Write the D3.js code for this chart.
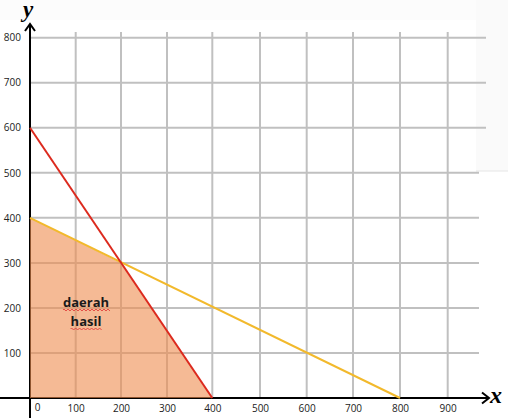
<!DOCTYPE html>
<html>
<head>
<meta charset="utf-8">
<script src="https://cdn.jsdelivr.net/npm/d3@7"></script>
<style>
  html, body { margin: 0; padding: 0; background: #ffffff; }
  svg { display: block; }
</style>
</head>
<body>
<svg id="chart" width="508" height="418"></svg>
<script>
// ---- data ----
const xTicks = [0, 100, 200, 300, 400, 500, 600, 700, 800, 900];
const yTicks = [100, 200, 300, 400, 500, 600, 700, 800];
const redLine = [[0, 600], [400, 0]];
const yellowLine = [[0, 400], [800, 0]];
const region = [[0, 0], [0, 400], [200, 300], [400, 0]];
const regionLabel = ["daerah", "hasil"];
const axisNames = ["x", "y"];

// ---- drawing ----
const svg = d3.select("#chart");

// hand-drawn-like (slightly uneven) grid spacing on x
const x = d3.scaleLinear()
  .domain(xTicks)
  .range([30, 75.7, 121, 167, 212.3, 260, 306.7, 353, 400, 447.7]);
const y = d3.scaleLinear().domain([0, 800]).range([398, 37.7]);

// subtle background tint regions
svg.append("rect").attr("x", 0).attr("y", 0).attr("width", 508).attr("height", 20).attr("fill", "#fcfcfc");
svg.append("rect").attr("x", 476).attr("y", 0).attr("width", 32).attr("height", 171).attr("fill", "#fafafa");
svg.append("line").attr("x1", 476).attr("x2", 508).attr("y1", 171).attr("y2", 171)
  .attr("stroke", "#e6e6e6").attr("stroke-width", 1);

const grid = svg.append("g").attr("stroke", "#c0c0c0").attr("stroke-width", 2);
grid.selectAll("line.v").data(xTicks.slice(1)).join("line").attr("class", "v")
  .attr("x1", d => x(d)).attr("x2", d => x(d))
  .attr("y1", 32).attr("y2", y(0));
grid.selectAll("line.h").data(yTicks).join("line").attr("class", "h")
  .attr("x1", x(0)).attr("x2", d => d >= 600 ? 486 : 479)
  .attr("y1", d => y(d)).attr("y2", d => y(d));

// axes lines (black)
const axisG = svg.append("g").attr("stroke", "#000").attr("stroke-width", 2).attr("fill", "none");
axisG.append("line").attr("x1", 0).attr("x2", 489).attr("y1", y(0)).attr("y2", y(0));
axisG.append("line").attr("x1", x(0)).attr("x2", x(0)).attr("y1", 418).attr("y2", 24);
axisG.append("path").attr("d", `M${482},${y(0) - 5.5}L${489},${y(0)}L${482},${y(0) + 5.5}`);
axisG.append("path").attr("d", `M${x(0) - 5},${31}L${x(0)},${24}L${x(0) + 5},${31}`);

// feasible region (semi-transparent so grid/axis show through)
svg.append("path")
  .datum(region)
  .attr("d", d3.line().x(d => x(d[0])).y(d => y(d[1])).curve(d3.curveLinearClosed))
  .attr("fill", "#ee8c4e").attr("fill-opacity", 0.6).attr("stroke", "none");

// constraint lines
const line = d3.line().x(d => x(d[0])).y(d => y(d[1]));
svg.append("path").datum(yellowLine).attr("d", line)
  .attr("stroke", "#f2b92c").attr("stroke-width", 2).attr("fill", "none");
svg.append("path").datum(redLine).attr("d", line)
  .attr("stroke", "#dc2a1e").attr("stroke-width", 2).attr("fill", "none");

// tick labels via d3 axes
const font = "'Open Sans', 'DejaVu Sans', sans-serif";
const xa = svg.append("g").attr("transform", `translate(0,${y(0)})`)
  .call(d3.axisBottom(x).tickValues(xTicks).tickSize(0).tickPadding(7));
xa.select(".domain").remove();
xa.selectAll("text").attr("font-family", font).attr("font-size", 10).attr("fill", "#222")
  .attr("dx", d => d === 0 ? 7 : 0).attr("dy", d => d === 0 ? "0.55em" : "0.71em");

const ya = svg.append("g").attr("transform", `translate(${x(0)},0)`)
  .call(d3.axisLeft(y).tickValues(yTicks).tickSize(0).tickPadding(9));
ya.select(".domain").remove();
ya.selectAll("text").attr("font-family", font).attr("font-size", 10).attr("fill", "#222");

// axis names
svg.append("text").attr("x", 490).attr("y", 403).text(axisNames[0])
  .attr("font-family", "'Liberation Serif', serif").attr("font-style", "italic")
  .attr("font-weight", "bold").attr("font-size", 24).attr("fill", "#000");
svg.append("text").attr("x", 23).attr("y", 17).text(axisNames[1])
  .attr("font-family", "'Liberation Serif', serif").attr("font-style", "italic")
  .attr("font-weight", "bold").attr("font-size", 23).attr("fill", "#000");

// region label with spell-check squiggles
const labelG = svg.append("g");
const baselines = [307, 326];
regionLabel.forEach((t, i) => {
  const txt = labelG.append("text").attr("x", 86).attr("y", baselines[i])
    .attr("text-anchor", "middle").attr("font-family", font)
    .attr("font-weight", "bold").attr("font-size", 13).attr("fill", "#1a1a1a").text(t);
  const bb = txt.node().getBBox();
  let d = `M${bb.x},${baselines[i] + 3}`;
  for (let px = bb.x; px < bb.x + bb.width; px += 2) {
    d += `L${px + 1},${baselines[i] + (((px - bb.x) / 2) % 2 === 0 ? 2 : 4)}`;
  }
  labelG.append("path").attr("d", d).attr("fill", "none")
    .attr("stroke", "#e03030").attr("stroke-width", 0.8);
});
</script>
</body>
</html>
